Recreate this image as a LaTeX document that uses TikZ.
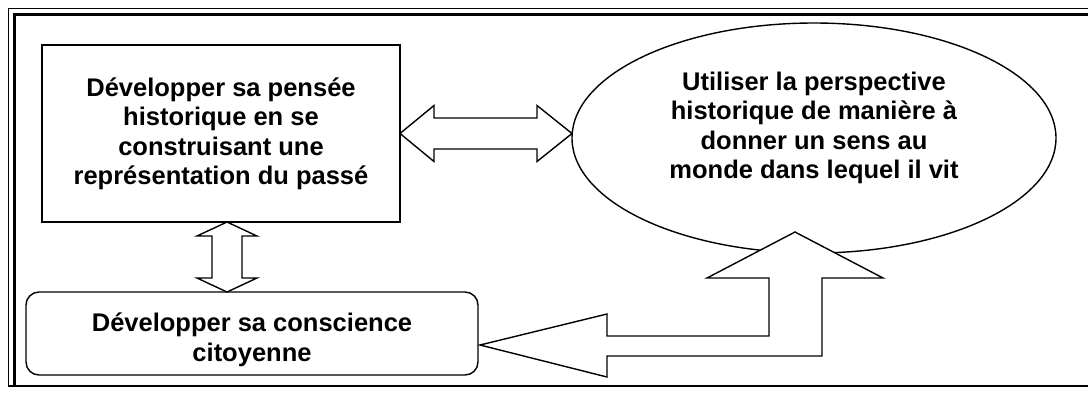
\documentclass[tikz,border=0pt]{standalone}
\usepackage{fontspec}
\setmainfont{Liberation Sans}
\usetikzlibrary{shapes.geometric,calc}
\begin{document}
\begin{tikzpicture}[x=1pt,y=-1pt,
  shp/.style={draw=black,line width=1.4pt,fill=white,inner sep=0pt,outer sep=0pt},
  txt/.style={align=center,font=\fontsize{25.5}{29.5}\selectfont\bfseries,inner sep=0pt},
  blockarrow/.style={draw=black,line width=1.4pt,fill=white,line join=miter}]
\useasboundingbox (0,0) rectangle (1088,392);
\clip (0,0) rectangle (1088,392);
% page frame
\draw[line width=1pt] (1100,8.5) -- (8.5,8.5) -- (8.5,386);
\draw[line width=2.6pt] (1100,14.5) -- (14.5,14.5) -- (14.5,386);
\draw[line width=2pt] (7.5,386) -- (1100,386);
% nodes
\node[shp,rectangle,minimum width=358pt,minimum height=177pt] (pensee) at (221,133.5) {};
\node[txt] (penseetxt) at (221,134) {Développer sa pensée\\historique en se\\construisant une\\représentation du passé};
\node[shp,ellipse,minimum width=484pt,minimum height=230pt] (monde) at (814,138) {};
\node[txt] (mondetxt) at (814,128) {Utiliser la perspective\\historique de manière à\\donner un sens au\\monde dans lequel il vit};
\node[shp,rectangle,rounded corners=13pt,minimum width=452pt,minimum height=83pt] (citoyen) at (252,333.5) {};
\node[txt] (citoyentxt) at (252,340) {Développer sa conscience\\citoyenne};
% horizontal double arrow
\coordinate (hl) at (pensee.east);
\coordinate (hr) at (pensee.east -| monde.west);
\draw[blockarrow] (hl) -- ($(hl)+(34,-28)$) -- ($(hl)+(34,-15.5)$) -- ($(hr)+(-35,-15.5)$) -- ($(hr)+(-35,-28)$) -- (hr)
  -- ($(hr)+(-35,28)$) -- ($(hr)+(-35,15.5)$) -- ($(hl)+(34,15.5)$) -- ($(hl)+(34,28)$) -- cycle;
% vertical double arrow
\coordinate (vt) at ($(pensee.south)+(6,0)$);
\coordinate (vb) at (vt |- citoyen.north);
\draw[blockarrow] (vt) -- ($(vt)+(30,14)$) -- ($(vt)+(15,14)$) -- ($(vb)+(15,-14)$) -- ($(vb)+(30,-14)$) -- (vb)
  -- ($(vb)+(-30,-14)$) -- ($(vb)+(-15,-14)$) -- ($(vt)+(-15,14)$) -- ($(vt)+(-30,14)$) -- cycle;
% bent arrow
\coordinate (ba) at ($(citoyen.east)+(2,11.5)$);
\coordinate (bu) at ($(monde.south)+(-19,-21)$);
\draw[blockarrow] (ba) -- ($(ba)+(127,32)$) -- ($(ba)+(127,11)$) -- ($(ba)+(342,11)$) -- ($(bu)+(27,46)$)
  -- ($(bu)+(88,46)$) -- (bu) -- ($(bu)+(-88,46)$) -- ($(bu)+(-26,46)$) -- ($(ba)+(289,-9)$)
  -- ($(ba)+(127,-9)$) -- ($(ba)+(127,-31)$) -- cycle;
\end{tikzpicture}
\end{document}
